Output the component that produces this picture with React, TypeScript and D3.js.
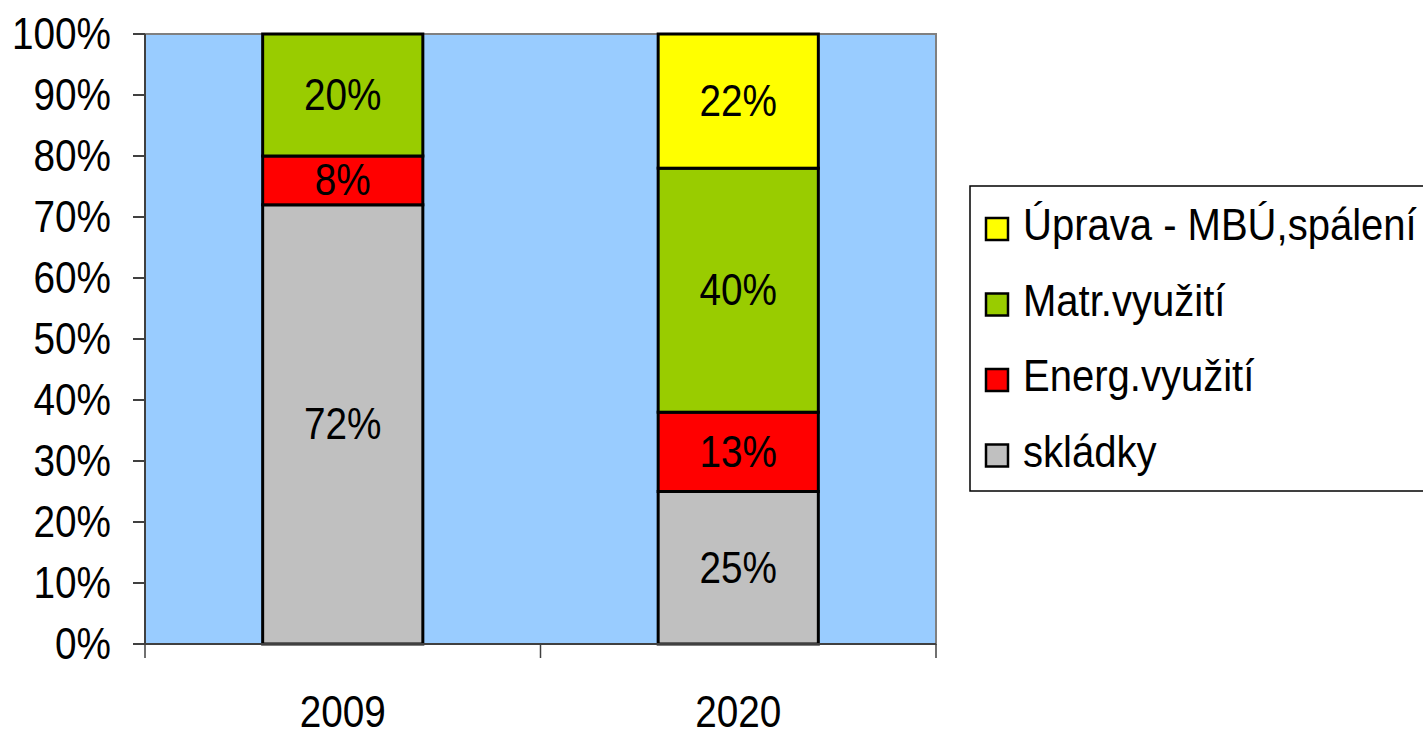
import React from 'react';
import * as d3 from 'd3';

const YEARS = ["2009", "2020"];
const SERIES = ["skládky", "Energ.využití", "Matr.využití", "Úprava - MBÚ,spálení"];
const COLORS = ["#C0C0C0", "#FF0000", "#99CC00", "#FFFF00"];
const SKLADKY = [72, 25];
const ENERG = [8, 13];
const MATR = [20, 40];
const UPRAVA = [0, 22];
const Y_TICKS = [0, 10, 20, 30, 40, 50, 60, 70, 80, 90, 100];

const width = 1423;
const height = 731;
const plot = { left: 145, right: 936, top: 34, bottom: 644 };
const FONT = "'Liberation Sans', Arial, sans-serif";
const SX = 0.88;

const App: React.FC = () => {
    const rows = YEARS.map((year, i) => ({
        year,
        [SERIES[0]]: SKLADKY[i],
        [SERIES[1]]: ENERG[i],
        [SERIES[2]]: MATR[i],
        [SERIES[3]]: UPRAVA[i],
    })) as any[];

    const stacked = d3.stack<any>().keys(SERIES)(rows);

    const x = d3.scaleBand()
        .domain(YEARS)
        .range([plot.left, plot.right])
        .paddingInner(0.595)
        .paddingOuter(0.2975);

    const y = d3.scaleLinear()
        .domain([0, 100])
        .range([plot.bottom, plot.top]);

    const step = x.step();
    const catEdges = [plot.left, ...YEARS.map((_, i) => plot.left + step * (i + 1))];

    const txt = (tx: number, ty: number, s: string, anchor: string, sx = SX, key?: string) => (
        <text
            key={key}
            transform={`translate(${tx},${ty}) scale(${sx},1)`}
            textAnchor={anchor}
            fontSize={44}
            fontFamily={FONT}
            fill="#000"
        >
            {s}
        </text>
    );

    const legendRows = [...SERIES].reverse();

    return (
        <svg width={width} height={height} style={{ position: 'absolute', left: 0, top: 0, background: '#fff' }}>
            <rect x={plot.left} y={plot.top} width={plot.right - plot.left} height={plot.bottom - plot.top} fill="#99CCFF" stroke="#808080" strokeWidth={2} />

            {stacked.map((layer, si) => (
                <g key={SERIES[si]}>
                    {layer.map((d, i) => {
                        const v = d[1] - d[0];
                        if (v <= 0) return null;
                        return (
                            <rect
                                key={i}
                                x={x(YEARS[i])}
                                y={y(d[1])}
                                width={x.bandwidth()}
                                height={y(d[0]) - y(d[1])}
                                fill={COLORS[si]}
                                stroke="#000"
                                strokeWidth={3}
                            />
                        );
                    })}
                </g>
            ))}

            {stacked.map((layer, si) => layer.map((d, i) => {
                const v = d[1] - d[0];
                if (v <= 0) return null;
                const cx = (x(YEARS[i]) || 0) + x.bandwidth() / 2;
                const cy = y((d[0] + d[1]) / 2) + 15;
                return txt(cx, cy, `${v}%`, 'middle', SX, `l${si}-${i}`);
            }))}

            {/* y axis */}
            <line x1={plot.left} x2={plot.left} y1={plot.top} y2={plot.bottom} stroke="#404040" strokeWidth={2} />
            {Y_TICKS.map(t => (
                <g key={t}>
                    <line x1={plot.left - 12} x2={plot.left} y1={y(t)} y2={y(t)} stroke="#404040" strokeWidth={2} />
                    {txt(111, y(t) + 15, `${t}%`, 'end')}
                </g>
            ))}

            {/* x axis */}
            <line x1={plot.left} x2={plot.right} y1={plot.bottom} y2={plot.bottom} stroke="#404040" strokeWidth={2} />
            {catEdges.map((e, i) => (
                <line key={i} x1={e} x2={e} y1={plot.bottom} y2={plot.bottom + 14} stroke="#404040" strokeWidth={1.5} />
            ))}
            {YEARS.map(yr => txt((x(yr) || 0) + x.bandwidth() / 2, 727, yr, 'middle', SX, yr))}

            {/* legend */}
            <rect x={970} y={186} width={470} height={305} fill="#fff" stroke="#000" strokeWidth={1.5} />
            {legendRows.map((s, i) => {
                const base = 240 + i * 75.5;
                const ci = SERIES.indexOf(s);
                return (
                    <g key={s}>
                        <rect x={986} y={base - 22} width={22} height={22} fill={COLORS[ci]} stroke="#000" strokeWidth={2.5} />
                        {txt(1023, base, s, 'start', 0.91)}
                    </g>
                );
            })}
        </svg>
    );
};

export default App;
